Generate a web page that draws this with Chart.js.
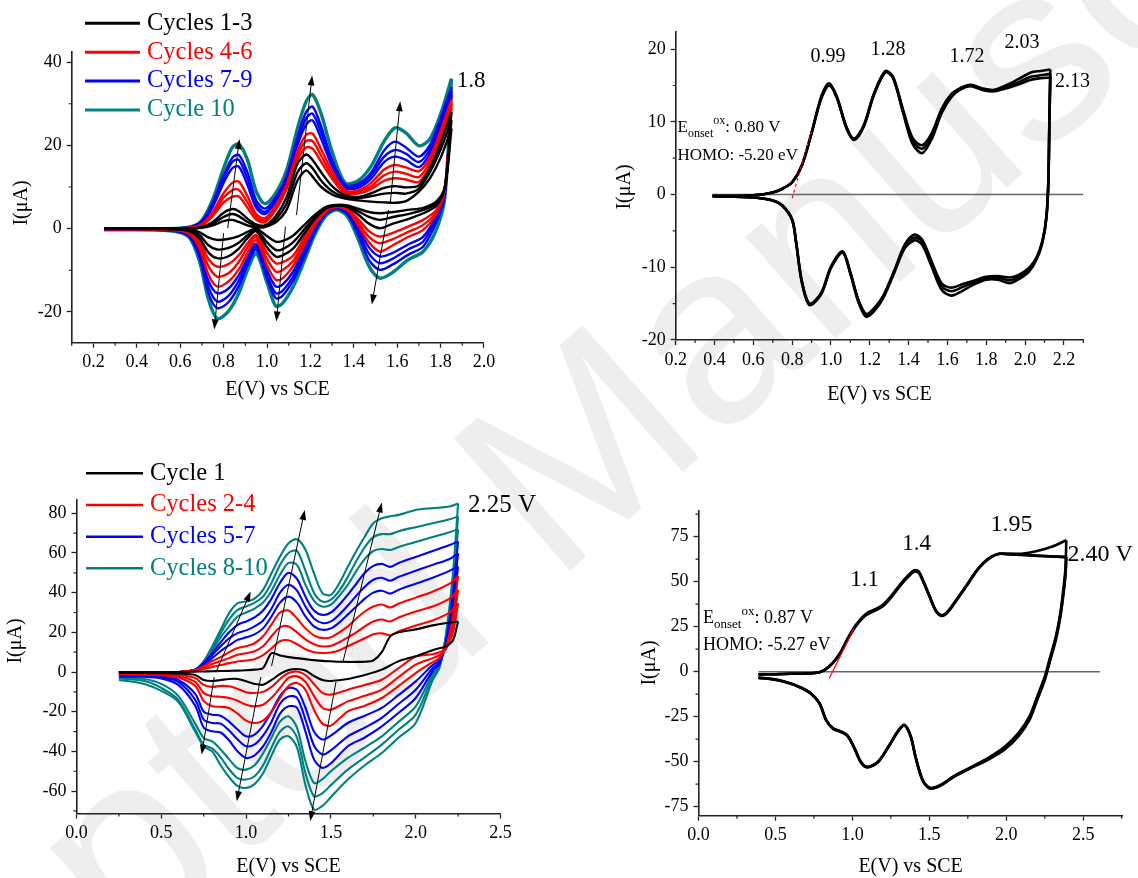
<!DOCTYPE html>
<html>
<head>
<meta charset="utf-8">
<title>CV cycles</title>
<script src="https://cdn.jsdelivr.net/npm/chart.js@4.4.1/dist/chart.umd.min.js"></script>
<style>
  html, body { margin: 0; padding: 0; background: #fff; }
  body { width: 1138px; height: 878px; position: relative; overflow: hidden; }
  canvas { position: absolute; left: 0; top: 0; }
  #wm { position: absolute; left: -444px; top: 1173px; font: 256px "Liberation Sans", Arial, sans-serif;
        line-height: 1; color: #eeeeee; white-space: nowrap; transform-origin: 0 0; transform: rotate(-41.3deg); }
</style>
</head>
<body>
<div id="wm">Accepted Manuscript</div>
<canvas id="c1" width="1138" height="878"></canvas>
<canvas id="c2" width="1138" height="878"></canvas>
<canvas id="c3" width="1138" height="878"></canvas>
<canvas id="c4" width="1138" height="878"></canvas>
<script>
// ---------- panel 1 (top left): 10 cycles ----------
const p1LegendNames = ['Cycles 1-3', 'Cycles 4-6', 'Cycles 7-9', 'Cycle 10'];
const p1LegendColors = ['#000000', '#ff0000', '#0000ff', '#008080'];
const p1CycleColors = ['#000000', '#000000', '#000000', '#ff0000', '#ff0000', '#ff0000', '#0000ff', '#0000ff', '#0000ff', '#008080'];
const p1XTicks = [0.2, 0.4, 0.6, 0.8, 1.0, 1.2, 1.4, 1.6, 1.8, 2.0];
const p1YTicks = [-20, 0, 20, 40];
const p1FwdE = [0.25, 0.55, 0.65, 0.7, 0.75, 0.8, 0.84, 0.87, 0.91, 0.95, 0.99, 1.04, 1.09, 1.14, 1.18, 1.21, 1.25, 1.3, 1.36, 1.42, 1.48, 1.54, 1.59, 1.64, 1.7, 1.75, 1.8, 1.85];
const p1Fwd = [
  [0, 0, 0, 0.2, 0.8, 1.8, 2.1, 1.6, 0.8, 0.3, 0.4, 1.5, 4.5, 11.5, 14, 12.5, 10, 8.2, 7.2, 6.8, 6.5, 6.3, 6.2, 6.6, 8.9, 12, 17, 24],
  [0, 0, 0, 0.3, 1.2, 2.8, 3.5, 3, 1.6, 0.6, 0.5, 2.2, 6, 13.5, 15.7, 14.5, 11.5, 9, 7.6, 7.3, 7.8, 8.4, 8.6, 8.4, 9.6, 13.5, 19, 26],
  [0, 0, 0, 0.4, 1.6, 3.8, 4.7, 4.2, 2.4, 1, 0.8, 3, 7.5, 15.5, 17.8, 16.5, 13.5, 10.2, 8, 7.6, 8.5, 9.8, 10.2, 9.9, 10.4, 14.5, 20.5, 28],
  [0, 0, 0.1, 0.8, 3, 6.3, 7.6, 7.7, 5, 2.2, 1.5, 4.5, 9.5, 16.5, 19.5, 19.2, 16, 12, 8.4, 8.4, 9.5, 11.5, 12.1, 11.8, 11.2, 15, 21.5, 29],
  [0, 0, 0.2, 1, 3.5, 7.5, 9.2, 9.3, 6.3, 2.8, 2, 5, 10, 17.5, 21, 21, 17.5, 12.8, 8.8, 8.8, 10.2, 12.8, 13.7, 13.2, 12.4, 16, 22.5, 30],
  [0, 0, 0.2, 1.1, 4, 8.5, 11, 11.3, 7.8, 3.5, 2.5, 5.5, 10.5, 18.5, 22.5, 22.8, 19, 13.8, 9.2, 9.2, 11, 14.2, 15.3, 14.7, 13.8, 17, 23.5, 31],
  [0, 0, 0.3, 1.4, 5.2, 11, 14.5, 14.9, 10.5, 5, 3.5, 6.5, 11.5, 20, 25, 26, 21.5, 15, 9.8, 9.8, 12, 16, 17.3, 16.5, 14.8, 18, 24.5, 32],
  [0, 0, 0.3, 1.6, 5.8, 12, 16, 16.5, 12, 5.8, 4, 7, 12, 21, 26.5, 27.6, 23, 15.8, 10.2, 10.3, 12.8, 17.3, 18.9, 18, 16, 19, 25.5, 33],
  [0, 0, 0.4, 1.8, 6.2, 12.8, 17, 17.7, 13.5, 6.8, 4.8, 7.5, 12.5, 22, 28, 29.3, 24.5, 16.5, 10.5, 10.8, 13.5, 18.8, 20.9, 19.5, 17.3, 20, 26.5, 34],
  [0, 0, 0.5, 2, 7, 14.5, 19.5, 20.3, 16.5, 9, 6, 8.5, 14, 24, 30.5, 32.2, 27.5, 18.5, 11, 11.5, 15, 21, 24.2, 23, 19.9, 21.5, 27.5, 36]
];
const p1RevE = [1.85, 1.82, 1.78, 1.72, 1.65, 1.58, 1.52, 1.47, 1.42, 1.37, 1.32, 1.27, 1.22, 1.17, 1.12, 1.07, 1.04, 1.0, 0.95, 0.91, 0.87, 0.82, 0.77, 0.73, 0.69, 0.64, 0.55, 0.25];
const p1Rev = [
  [24, 10, 6.5, 5, 4.5, 4, 3.7, 4, 4.8, 5.6, 5.7, 5.2, 3.3, 0.8, -1.7, -3, -3.1, -1.8, 0, -0.8, -1.8, -2.5, -2.7, -2.1, -0.9, -0.2, 0, 0],
  [26, 10, 6, 4.5, 3.5, 2.8, 2.1, 2.8, 4.2, 5.4, 5.6, 5, 2.8, -0.3, -3.3, -5, -5.1, -3.3, -0.3, -1.6, -3.4, -4.7, -5, -4, -1.6, -0.4, -0.1, 0],
  [28, 10, 5.5, 3.7, 2.3, 1.2, 0.1, 1.2, 3.4, 5.2, 5.5, 4.8, 2.3, -1.3, -4.8, -6.5, -6.7, -4.5, -0.6, -2.3, -4.8, -6.7, -7.1, -5.7, -2.4, -0.6, -0.1, 0],
  [29, 10, 4.5, 2.1, 0.5, -1, -1.9, -0.6, 2.3, 4.9, 5.4, 4.5, 1.8, -2.3, -6.5, -8.1, -8.3, -5.8, -1.5, -3.5, -6.4, -8.6, -9.1, -7.3, -3.2, -0.8, -0.2, -0.1],
  [30, 10, 4, 0.9, -0.8, -2.5, -3.5, -2, 1.5, 4.7, 5.3, 4.3, 1.3, -3.3, -7.8, -10, -10.3, -7.3, -2, -4.5, -8, -10.8, -11.5, -9, -4, -1, -0.2, -0.1],
  [31, 9.5, 3.5, -0.3, -2, -4, -5.5, -3.3, 0.8, 4.5, 5.2, 4, 0.8, -4.2, -9, -12, -12.3, -8.8, -2.8, -5.8, -9.8, -12.8, -13.9, -11, -4.8, -1.2, -0.3, -0.1],
  [32, 9, 3, -1.9, -3.8, -5.8, -6.7, -4.5, 0, 4.3, 5.1, 3.8, 0.3, -5, -10.3, -13.5, -13.9, -10, -3.7, -7, -11.2, -14.5, -15.5, -12.5, -5.5, -1.4, -0.3, -0.2],
  [33, 8.5, 2.5, -3.1, -5, -7.2, -8.3, -6, -0.8, 4, 5, 3.6, -0.2, -6, -11.5, -15, -15.5, -11.2, -4.3, -7.8, -12.5, -16.3, -17.5, -14, -6.3, -1.6, -0.4, -0.2],
  [34, 8, 1.5, -4.3, -6.3, -8.6, -9.9, -7.5, -1.5, 3.5, 4.8, 3.4, -0.8, -7, -12.5, -16.2, -16.7, -12, -5, -8.8, -13.8, -17.8, -19.1, -15.5, -7, -1.8, -0.4, -0.2],
  [36, 7.7, -0.3, -5.5, -7.5, -10.5, -11.9, -9, -2.5, 3, 4.5, 3, -1.5, -8, -14, -18, -18.6, -13, -6, -10, -15.5, -20, -21.6, -17, -8, -2, -0.5, -0.3]
];
// arrows: [E1, I1, E2, I2], head at the second point
const p1Arrows = [[0.819, 0.1, 0.873, 21.5], [0.80, -1.1, 0.757, -24.2], [1.136, 3.3, 1.208, 36.8],
                  [1.085, 0.5, 1.043, -22.3], [1.568, 6.1, 1.614, 30.6], [1.56, 4.5, 1.483, -18.2]];

// ---------- panel 2 (top right) ----------
const p2XTicks = [0.2, 0.4, 0.6, 0.8, 1.0, 1.2, 1.4, 1.6, 1.8, 2.0, 2.2];
const p2YTicks = [-20, -10, 0, 10, 20];
const p2FwdE = [0.39, 0.5, 0.6, 0.7, 0.75, 0.8, 0.85, 0.9, 0.95, 0.99, 1.03, 1.08, 1.12, 1.17, 1.22, 1.28, 1.32, 1.37, 1.42, 1.47, 1.52, 1.57, 1.62, 1.67, 1.72, 1.78, 1.84, 1.9, 1.96, 2.03, 2.08, 2.13];
const p2Fwd = [
  [-0.2, -0.2, -0.1, 0.3, 0.8, 1.7, 4, 8.5, 13.5, 15.3, 13.5, 9.3, 7.7, 9.6, 13.8, 17, 16.2, 11.8, 7.8, 6.8, 8.5, 11.8, 13.8, 14.7, 15.1, 14.6, 14.4, 15, 15.8, 16.8, 17, 17.2],
  [-0.2, -0.2, -0.1, 0.3, 0.8, 1.7, 4, 8.5, 13.3, 15.1, 13.4, 9.2, 7.6, 9.5, 13.7, 16.9, 16.1, 11.6, 7.4, 6.3, 8.1, 11.5, 13.6, 14.6, 15, 14.5, 14.3, 14.8, 15.4, 16.2, 16.4, 16.6],
  [-0.2, -0.2, -0.1, 0.3, 0.8, 1.7, 4, 8.4, 13.2, 15, 13.3, 9.1, 7.5, 9.4, 13.6, 16.8, 16, 11.4, 7, 5.7, 7.7, 11.2, 13.4, 14.5, 14.9, 14.4, 14.2, 14.6, 15.1, 15.8, 16, 16.1]
];
const p2RevE = [2.13, 2.125, 2.12, 2.11, 2.09, 2.06, 2.02, 1.97, 1.92, 1.86, 1.8, 1.74, 1.68, 1.62, 1.57, 1.52, 1.47, 1.43, 1.38, 1.33, 1.27, 1.22, 1.18, 1.14, 1.1, 1.06, 1.0, 0.95, 0.89, 0.85, 0.82, 0.8, 0.75, 0.7, 0.6, 0.39];
const p2Rev = [
  [17.2, 10, 2, -3, -6.3, -8.6, -10.1, -11, -11.4, -11.2, -11.3, -11.8, -12.3, -12.8, -12.2, -9.3, -6.2, -5.5, -6.9, -10.2, -13.9, -15.7, -16.4, -14.4, -10.7, -7.8, -9.9, -13.5, -15, -11.9, -6.4, -3.4, -1.5, -0.8, -0.4, -0.2],
  [16.6, 9.5, 1.8, -3.1, -6.4, -8.7, -10.3, -11.3, -11.8, -11.4, -11.5, -12, -12.7, -13.3, -12.6, -9.6, -6.5, -5.9, -7.1, -10.3, -14, -15.9, -16.6, -14.5, -10.8, -7.9, -10, -13.6, -15.1, -12, -6.5, -3.5, -1.5, -0.8, -0.4, -0.2],
  [16.1, 9, 1.6, -3.2, -6.5, -8.9, -10.6, -11.6, -12.2, -11.7, -11.7, -12.3, -13.2, -13.9, -13.1, -10, -6.9, -6.3, -7.4, -10.5, -14.2, -16.1, -16.8, -14.7, -10.9, -8, -10.1, -13.7, -15.2, -12.1, -6.6, -3.5, -1.6, -0.8, -0.4, -0.2]
];
const p2ZeroE = [0.39, 2.3];
const p2TangentE = [0.8, 0.9];
const p2TangentI = [-0.5, 8.8];
const p2Peaks = ['0.99', '1.28', '1.72', '2.03', '2.13'];
const p2Onset = '0.80 V';
const p2Homo = 'HOMO: -5.20 eV';

// ---------- panel 3 (bottom left): 10 cycles ----------
const p3LegendNames = ['Cycle 1', 'Cycles 2-4', 'Cycles 5-7', 'Cycles 8-10'];
const p3LegendColors = ['#000000', '#ff0000', '#0000ff', '#008080'];
const p3CycleColors = ['#000000', '#ff0000', '#ff0000', '#ff0000', '#0000ff', '#0000ff', '#0000ff', '#008080', '#008080', '#008080'];
const p3XTicks = [0, 0.5, 1.0, 1.5, 2.0, 2.5];
const p3YTicks = [-60, -40, -20, 0, 20, 40, 60, 80];
const p3FwdE = [0.25, 0.6, 0.7, 0.75, 0.8, 0.85, 0.9, 0.95, 1.0, 1.05, 1.1, 1.15, 1.2, 1.25, 1.3, 1.35, 1.4, 1.45, 1.5, 1.55, 1.6, 1.65, 1.7, 1.75, 1.8, 1.85, 1.9, 2.0, 2.1, 2.2, 2.25];
const p3Fwd = [
  [0, 0, 0.2, 0.3, 0.4, 0.5, 0.6, 0.7, 0.9, 1.2, 2, 9.5, 8.3, 7.5, 7, 6.5, 6, 5.6, 5.4, 5.2, 5.1, 5.1, 5.2, 5.8, 10, 18, 20, 21.5, 23.5, 25, 25.5],
  [0, 0, 0.6, 1.5, 2.5, 3.5, 4.5, 5.3, 5.8, 6.5, 8.5, 12, 15.5, 16, 14, 11.5, 10, 9.6, 9.8, 11, 13, 15, 17, 19, 19.5, 18.5, 20.5, 23.5, 26, 30, 34.7],
  [0, 0, 0.8, 2, 4, 5.5, 7, 8.7, 9.5, 10.5, 13, 18, 22.5, 23, 20, 16.5, 14, 12.9, 13.2, 15, 17.5, 20, 23, 25.5, 26.5, 25.5, 27.5, 30.5, 33, 37, 41.4],
  [0, 0, 1, 3, 5.5, 7.5, 10, 12.1, 13, 14.5, 18, 24, 30, 31, 27, 22, 18.5, 17.1, 17.5, 20, 23, 27, 30.5, 33, 34, 32.5, 34.5, 37.5, 40.5, 44.5, 48.5],
  [0, 0, 1.2, 3.5, 7, 10.5, 13.5, 16.2, 17.5, 19, 22, 28, 35, 38, 35, 28, 23, 21.3, 22, 25, 29, 33, 37, 40, 41, 39.5, 41.5, 44.5, 47.5, 51, 53.2],
  [0, 0, 1.2, 4, 8.5, 13, 17, 19.6, 21, 23, 26, 32, 40, 44, 41, 33, 27, 24.7, 25.5, 29, 33.5, 38.5, 43, 46.5, 47.5, 46, 48, 51, 54, 57, 59.9],
  [0, 0, 1.2, 4.5, 9.5, 15, 20, 23.8, 25.5, 27.5, 31, 37, 45, 50, 47, 38, 31, 28.8, 30, 34, 39, 44.5, 50, 53.5, 54.5, 53, 55, 58, 61, 64, 65.8],
  [0, 0, 1.2, 5, 11, 17.5, 23, 28, 30, 32, 35, 41, 49, 55, 54, 44, 36, 33, 34, 38.5, 44, 51, 57, 61, 62, 61.5, 63, 65.5, 68, 70.5, 72],
  [0, 0, 1.2, 5.2, 12, 19.5, 26.5, 31.3, 33, 35, 38, 45, 54, 60, 61, 51, 40, 35.5, 36.5, 41, 48, 56, 63, 68, 69.5, 69.5, 71, 73, 75, 77, 78.4],
  [0, 0, 1.2, 5.4, 12.9, 21.3, 29.7, 34.7, 35.5, 37, 41.4, 49.8, 58.2, 64.9, 66.9, 61.6, 49.8, 39.8, 38.9, 44.8, 53.2, 61, 68.3, 75, 77.5, 78.5, 79.2, 81.7, 82.6, 83.4, 85]
];
const p3RevE = [2.25, 2.22, 2.18, 2.14, 2.1, 2.0, 1.9, 1.8, 1.7, 1.6, 1.5, 1.45, 1.4, 1.35, 1.3, 1.25, 1.2, 1.15, 1.1, 1.05, 1.0, 0.95, 0.9, 0.85, 0.8, 0.75, 0.7, 0.6, 0.5, 0.4, 0.25];
const p3Rev = [
  [25.5, 16, 13, 12, 11, 8, 5.5, 1.2, -1.5, -3.5, -4.5, -4, -2, 0.8, 1.5, 1, -1, -4, -6.4, -6, -4.7, -3.5, -3.5, -4, -4.5, -4, -1.5, -0.8, -0.6, -0.5, -0.5],
  [34.7, 20, 12, 10, 9, 7.8, 2, -3.9, -6.5, -8.9, -11.4, -10.5, -6, -1.5, 0.3, -0.5, -3.5, -7.5, -10, -10.6, -10.2, -8.5, -7.2, -7, -7.5, -6.5, -3, -1.5, -1, -0.8, -0.8],
  [41.4, 24, 12, 8.5, 7, 3.7, -2.5, -8.9, -12, -14.8, -19, -18, -12, -5, -2.2, -3, -8, -13, -16.5, -17.3, -16.5, -14.5, -13.1, -12.5, -12.2, -10.5, -5, -2, -1.3, -1, -1],
  [48.5, 28, 13, 7, 5, -0.5, -7, -13.1, -17, -19.8, -27, -26, -19, -9, -5.5, -7, -13, -20, -24.5, -25.7, -24.5, -21, -18.1, -17.5, -17.3, -14.5, -7, -2.8, -1.6, -1.3, -1.2],
  [53.2, 32, 14, 6, 3.5, -4.7, -11.5, -18.1, -22, -25.7, -32, -34, -30, -18, -9, -8, -12, -20, -27, -31.5, -32.4, -29, -25, -22, -21.5, -20, -11, -4, -2.2, -1.6, -1.5],
  [59.9, 36, 15, 5, 2, -8.9, -16, -23.1, -28, -32.4, -39.5, -41.6, -37, -24, -13, -12.3, -16, -25, -32, -36.5, -37.4, -34, -29.5, -26, -25.7, -24, -14, -5, -2.6, -2, -2],
  [65.8, 40, 16, 4, 0.5, -13.1, -20.5, -27.4, -33, -37.4, -46, -48.3, -44, -30, -18, -17.3, -21, -30, -37.5, -42, -43.3, -40, -34.5, -30.5, -29.9, -28, -17, -6.5, -3.2, -2.4, -2.3],
  [72, 44, 17, 3, -1, -17.3, -25, -32.4, -38, -43.3, -50, -54, -55.9, -45, -28, -22.3, -25, -33, -41, -47, -49.2, -48.5, -44, -39, -35, -33.2, -26, -12, -6, -3.5, -2.8],
  [78.4, 47, 19, 2.5, -2.5, -21.5, -29, -36.6, -43, -49.2, -57, -61, -62.6, -51, -33, -27.4, -30, -38, -47, -52.5, -54.2, -53.5, -49, -43, -38.5, -36.6, -29, -14, -8, -4.5, -3.2],
  [85, 50, 20, 2, -4, -25.7, -33, -40.8, -47, -54.2, -63, -67.5, -69.3, -57, -38, -32.4, -34, -42, -51, -56.5, -58.4, -57.5, -53, -47, -40, -37.5, -30, -15, -9.5, -6, -4]
];
const p3Arrows = [[0.827, 0.8, 1.027, 40.6], [0.812, -2.5, 0.738, -41.6], [1.15, 2.9, 1.346, 81.7],
                  [1.087, -2.5, 0.945, -65.1], [1.572, 5.4, 1.8, 85.4], [1.53, -5, 1.378, -75.2]];

// ---------- panel 4 (bottom right) ----------
const p4XTicks = [0, 0.5, 1.0, 1.5, 2.0, 2.5];
const p4YTicks = [-75, -50, -25, 0, 25, 50, 75];
const p4FwdE = [0.39, 0.5, 0.6, 0.7, 0.78, 0.82, 0.87, 0.92, 0.97, 1.02, 1.07, 1.1, 1.15, 1.2, 1.25, 1.3, 1.35, 1.4, 1.43, 1.46, 1.5, 1.54, 1.58, 1.62, 1.68, 1.75, 1.8, 1.85, 1.9, 1.95, 2.0, 2.1, 2.2, 2.3, 2.39];
const p4Fwd = [
  [-1.5, -1.4, -1.2, -1, -0.5, 1, 4.5, 10, 18, 25, 30, 32, 34, 36.5, 41, 46.5, 51.5, 55.5, 55, 50, 42, 34, 31, 33, 40, 48.5, 55, 60, 63.5, 65.5, 65.5, 65.5, 67, 69.5, 73],
  [-1.5, -1.4, -1.2, -1, -0.5, 1, 4.6, 10.2, 18.3, 25.3, 30.4, 32.5, 34.4, 37, 41.5, 47, 52, 56, 55.4, 50.3, 42.2, 34.2, 31.2, 33.3, 40.3, 48.8, 55.2, 60.2, 63.6, 65.4, 65.2, 64.8, 64.3, 64, 63.8],
  [-1.5, -1.4, -1.2, -1, -0.5, 1, 4.7, 10.4, 18.5, 25.6, 30.7, 32.8, 34.7, 37.3, 41.8, 47.3, 52.3, 56.3, 55.7, 50.6, 42.4, 34.4, 31.4, 33.5, 40.5, 49, 55.4, 60.4, 63.7, 65.4, 65.4, 65, 64.5, 64, 63.5]
];
const p4RevE = [2.39, 2.385, 2.37, 2.35, 2.326, 2.3, 2.28, 2.25, 2.2, 2.15, 2.08, 1.99, 1.88, 1.77, 1.66, 1.57, 1.505, 1.456, 1.41, 1.38, 1.34, 1.3, 1.233, 1.166, 1.095, 1.055, 1.01, 0.966, 0.92, 0.876, 0.83, 0.787, 0.73, 0.653, 0.564, 0.475, 0.39];
const p4Rev = [
  [73, 58, 45, 32, 21, 12.5, 6.5, -2.8, -14, -25, -34, -41.7, -48, -53, -58, -63, -64.5, -60, -47, -36, -29.6, -32.4, -41.7, -50, -52.8, -50, -41.7, -35.2, -33, -31.5, -26.9, -17.6, -12, -8.3, -5.6, -4, -3.3],
  [63.8, 55, 43, 30.5, 20, 11.5, 5.5, -3.8, -15, -26, -35, -42.5, -48.5, -53.3, -58.2, -63.2, -64.7, -60.2, -47.3, -36.2, -29.8, -32.6, -41.9, -50.2, -53, -50.2, -41.9, -35.4, -33.2, -31.7, -27, -17.7, -12.1, -8.4, -5.7, -4.1, -3.4],
  [63.5, 54, 42, 29.5, 19, 10.5, 4.5, -4.8, -16, -27, -35.8, -43.2, -49, -53.6, -58.4, -63.4, -65, -60.4, -47.5, -36.4, -30, -32.8, -42.1, -50.4, -53.2, -50.4, -42.1, -35.6, -33.4, -31.9, -27.1, -17.8, -12.2, -8.5, -5.8, -4.2, -3.5]
];
const p4ZeroE = [0.39, 2.61];
const p4TangentE = [0.85, 1.01];
const p4TangentI = [-3.7, 24];
const p4Peaks = ['1.1', '1.4', '1.95', '2.40 V'];
const p4Onset = '0.87 V';
const p4Homo = 'HOMO: -5.27 eV';

// ---------- helpers ----------
const W = 1138, H = 878;
const SERIF = '"Liberation Serif", "Times New Roman", serif';

function pts(xs, ys) { return xs.map((x, i) => ({ x: x, y: ys[i] })); }

function line(data, color, width, dash) {
  return { data: data, borderColor: color, borderWidth: width, borderDash: dash || [],
           showLine: true, pointRadius: 0, pointHoverRadius: 0, tension: 0.3, fill: false };
}

function axisOpts(min, max, vals, fmt, fit, pad) {
  return {
    type: 'linear', min: min, max: max,
    afterBuildTicks: s => { s.ticks = vals.map(v => ({ value: v })); },
    afterFit: fit,
    grid: { drawOnChartArea: false, drawTicks: true, tickLength: 5, tickWidth: 1.3, tickColor: '#222' },
    border: { display: true, color: '#222', width: 1.6 },
    ticks: { callback: fmt, autoSkip: false, maxRotation: 0, padding: pad, color: '#000',
             font: { family: SERIF, size: 18 } }
  };
}

function minorTicks(ctx, scale, a, horiz) {
  const vals = scale.ticks.map(t => t.value);
  const step = vals[1] - vals[0];
  ctx.save();
  ctx.strokeStyle = '#222'; ctx.lineWidth = 1.2;
  ctx.beginPath();
  for (let v = vals[0] - step / 2; v <= scale.max + 1e-9; v += step) {
    if (v < scale.min - 1e-9) continue;
    const p = scale.getPixelForValue(v);
    if (horiz) { ctx.moveTo(p, a.bottom); ctx.lineTo(p, a.bottom + 3); }
    else { ctx.moveTo(a.left, p); ctx.lineTo(a.left - 3, p); }
  }
  ctx.stroke();
  ctx.restore();
}

function arrow(ctx, x1, y1, x2, y2) {
  const ang = Math.atan2(y2 - y1, x2 - x1), L = 10, w = 3.4;
  const c = Math.cos(ang), s = Math.sin(ang);
  ctx.beginPath(); ctx.moveTo(x1, y1); ctx.lineTo(x2 - L * 0.7 * c, y2 - L * 0.7 * s); ctx.stroke();
  ctx.beginPath(); ctx.moveTo(x2, y2);
  ctx.lineTo(x2 - L * c + w * s, y2 - L * s - w * c);
  ctx.lineTo(x2 - L * c - w * s, y2 - L * s + w * c);
  ctx.closePath(); ctx.fill();
}

function text(ctx, str, x, y, size, align, color) {
  ctx.font = size + 'px ' + SERIF;
  ctx.fillStyle = color || '#000';
  ctx.textAlign = align || 'center';
  ctx.textBaseline = 'middle';
  ctx.fillText(str, x, y);
}

function onsetText(ctx, x, y, size, value) {
  ctx.fillStyle = '#000'; ctx.textAlign = 'left'; ctx.textBaseline = 'alphabetic';
  ctx.font = size + 'px ' + SERIF;
  ctx.fillText('E', x, y);
  let cx = x + ctx.measureText('E').width;
  const small = Math.round(size * 0.7);
  ctx.font = small + 'px ' + SERIF;
  ctx.fillText('onset', cx, y + size * 0.3);
  cx += ctx.measureText('onset').width;
  ctx.fillText('ox', cx, y - size * 0.45);
  cx += ctx.measureText('ox').width;
  ctx.font = size + 'px ' + SERIF;
  ctx.fillText(': ' + value, cx, y);
}

function decor(o) {
  return {
    id: 'decor',
    afterDraw(chart) {
      const ctx = chart.ctx, a = chart.chartArea, xs = chart.scales.x, ys = chart.scales.y;
      minorTicks(ctx, xs, a, true);
      minorTicks(ctx, ys, a, false);
      ctx.save();
      ctx.strokeStyle = '#000'; ctx.fillStyle = '#000'; ctx.lineWidth = 1;
      (o.arrows || []).forEach(r => arrow(ctx, xs.getPixelForValue(r[0]), ys.getPixelForValue(r[1]),
                                          xs.getPixelForValue(r[2]), ys.getPixelForValue(r[3])));
      ctx.restore();
      ctx.save();
      text(ctx, 'E(V) vs SCE', o.xTitle[0], o.xTitle[1], 20);
      ctx.translate(o.yTitle[0], o.yTitle[1]);
      ctx.rotate(-Math.PI / 2);
      text(ctx, 'I(\u03bcA)', 0, 0, 20);
      ctx.restore();
      ctx.save();
      (o.labels || []).forEach(l => text(ctx, l.t, l.x, l.y, l.s, l.align));
      if (o.legend) {
        const g = o.legend;
        g.names.forEach((n, i) => {
          ctx.strokeStyle = g.colors[i]; ctx.lineWidth = g.lw;
          ctx.beginPath(); ctx.moveTo(g.x0, g.ys[i]); ctx.lineTo(g.x1, g.ys[i]); ctx.stroke();
          text(ctx, n, g.tx, g.ys[i], 24.5, 'left', g.colors[i]);
        });
      }
      if (o.onset) {
        onsetText(ctx, o.onset.x, o.onset.y1, o.onset.s, o.onset.value);
        ctx.font = o.onset.s + 'px ' + SERIF; ctx.textAlign = 'left'; ctx.textBaseline = 'alphabetic';
        ctx.fillText(o.onset.homo, o.onset.x, o.onset.y2);
      }
      ctx.restore();
    }
  };
}

function panel(id, o) {
  const A = o.area;
  return new Chart(document.getElementById(id), {
    type: 'scatter',
    data: { datasets: o.datasets },
    options: {
      responsive: false, animation: false, devicePixelRatio: 1, events: [],
      layout: { padding: { left: 0, top: A.top, right: W - A.right, bottom: 0 } },
      plugins: { legend: { display: false }, tooltip: { enabled: false } },
      scales: {
        x: axisOpts(o.xr[0], o.xr[1], o.xTicks, v => Number(v).toFixed(1), s => { s.height = H - A.bottom; }, 4),
        y: axisOpts(o.yr[0], o.yr[1], o.yTicks, v => String(v), s => { s.width = A.left; }, 5)
      }
    },
    plugins: [decor(o)]
  });
}

// ---------- datasets ----------
const p1Sets = [];
p1Fwd.forEach((ys, k) => {
  const w = k === 9 ? 3.4 : 2.4;
  p1Sets.push(line(pts(p1FwdE, ys), p1CycleColors[k], w));
  p1Sets.push(line(pts(p1RevE, p1Rev[k]), p1CycleColors[k], w));
});

const p2Sets = [line(pts(p2TangentE, p2TangentI), '#ff0000', 1.2, [3, 3])];
p2Fwd.forEach((ys, k) => {
  p2Sets.push(line(pts(p2FwdE, ys), '#000', 2.6));
  p2Sets.push(line(pts(p2RevE, p2Rev[k]), '#000', 2.6));
});
p2Sets.push(line(pts(p2ZeroE, [0, 0]), '#666', 1.5));

const p3Sets = [];
p3Fwd.forEach((ys, k) => {
  p3Sets.push(line(pts(p3FwdE, ys), p3CycleColors[k], 2.1));
  p3Sets.push(line(pts(p3RevE, p3Rev[k]), p3CycleColors[k], 2.1));
});

const p4Sets = [line(pts(p4TangentE, p4TangentI), '#ff0000', 1.2)];
p4Fwd.forEach((ys, k) => {
  p4Sets.push(line(pts(p4FwdE, ys), '#000', 2.6));
  p4Sets.push(line(pts(p4RevE, p4Rev[k]), '#000', 2.6));
});
p4Sets.push(line(pts(p4ZeroE, [0, 0]), '#666', 1.5));

// ---------- charts ----------
panel('c1', {
  area: { left: 71.7, top: 51.7, right: 484, bottom: 342.7 },
  xr: [0.1, 2.0], yr: [-27.4, 42.5], xTicks: p1XTicks, yTicks: p1YTicks,
  datasets: p1Sets, arrows: p1Arrows,
  xTitle: [277.5, 390], yTitle: [21.7, 203],
  labels: [{ t: '1.8', x: 471, y: 81, s: 23 }],
  legend: { names: p1LegendNames, colors: p1LegendColors, ys: [23.3, 52.3, 81, 110], x0: 85, x1: 140, tx: 147, lw: 3 }
});

panel('c2', {
  area: { left: 675.7, top: 31.7, right: 1083.3, bottom: 340 },
  xr: [0.2, 2.3], yr: [-20, 22.4], xTicks: p2XTicks, yTicks: p2YTicks,
  datasets: p2Sets,
  xTitle: [879.4, 395], yTitle: [625, 187],
  labels: [{ t: p2Peaks[0], x: 828, y: 57, s: 20 }, { t: p2Peaks[1], x: 888, y: 50, s: 20 },
           { t: p2Peaks[2], x: 967, y: 57, s: 20 }, { t: p2Peaks[3], x: 1022, y: 43, s: 20 },
           { t: p2Peaks[4], x: 1055, y: 82, s: 20, align: 'left' }],
  onset: { x: 677.5, y1: 132, y2: 160, s: 17, value: p2Onset, homo: p2Homo }
});

panel('c3', {
  area: { left: 76.5, top: 500, right: 500.5, bottom: 813.5 },
  xr: [0, 2.5], yr: [-71.3, 86.7], xTicks: p3XTicks, yTicks: p3YTicks,
  datasets: p3Sets, arrows: p3Arrows,
  xTitle: [288.4, 866.7], yTitle: [16, 641],
  labels: [{ t: '2.25 V', x: 468, y: 505, s: 25, align: 'left' }],
  legend: { names: p3LegendNames, colors: p3LegendColors, ys: [473.3, 505, 536.7, 568.3], x0: 86, x1: 143, tx: 150, lw: 2.5 }
});

panel('c4', {
  area: { left: 698.5, top: 510.7, right: 1122.3, bottom: 815.7 },
  xr: [0, 2.754], yr: [-80, 89.4], xTicks: p4XTicks, yTicks: p4YTicks,
  datasets: p4Sets,
  xTitle: [910.6, 866.7], yTitle: [649.8, 663],
  labels: [{ t: p4Peaks[0], x: 864.5, y: 580, s: 23 }, { t: p4Peaks[1], x: 916.5, y: 544.3, s: 23 },
           { t: p4Peaks[2], x: 1011.5, y: 524.3, s: 24 }, { t: p4Peaks[3], x: 1067.5, y: 555, s: 24, align: 'left' }],
  onset: { x: 703, y1: 623, y2: 650, s: 18, value: p4Onset, homo: p4Homo }
});
</script>
</body>
</html>
